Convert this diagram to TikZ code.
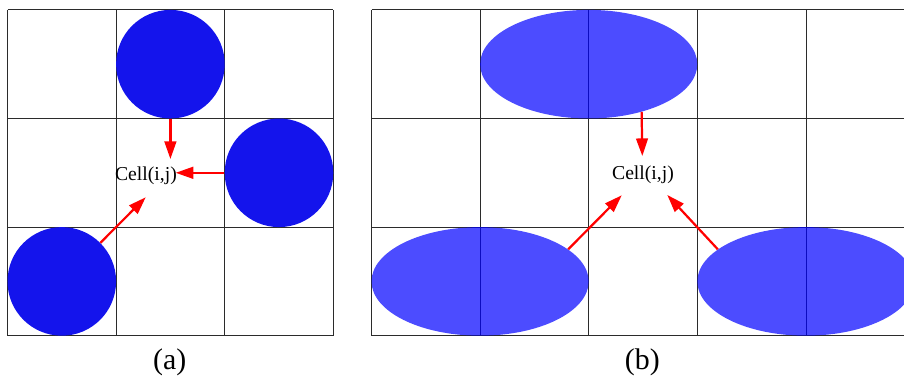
\documentclass[tikz,border=0pt]{standalone}
\usepackage{fontspec}
\setmainfont{Liberation Serif}
\usepackage{tikz}
\usetikzlibrary{arrows.meta,shapes.geometric}
\definecolor{disc}{HTML}{1414EC}
\definecolor{cellline}{HTML}{2B2B2B}
\definecolor{flow}{HTML}{FF0000}

\begin{document}
\begin{tikzpicture}[x=0.3mm,y=0.3mm,
  cellgrid/.style={draw=cellline,line width=0.7pt},
  disk/.style={circle,fill=disc,inner sep=0pt,minimum size=32.58mm},
  oval/.style={ellipse,fill=blue,fill opacity=0.7,inner sep=0pt,minimum width=65.16mm,minimum height=32.58mm},
  push/.style={-{Triangle[length=15pt,width=10pt]},draw=flow,line width=1.9pt},
  celltext/.style={font=\fontsize{16.8}{20}\selectfont,inner sep=0pt},
  caption/.style={font=\fontsize{25.5}{30}\selectfont,anchor=base,inner sep=0pt}]
\useasboundingbox (0,0) rectangle (904,378);
\clip (0,0) rectangle (904,378);
\fill[white] (0,0) rectangle (904,378);

\begin{scope}[shift={(7.5,42.3)}]
\draw[cellgrid,step=108.6] (0,0) grid (325.9,325.9);
\node[disk] (up) at (162.9,271.5) {};
\node[disk] (side) at (271.5,162.9) {};
\node[disk] (low) at (54.3,54.3) {};
\node[celltext] (cella) at (138.5,160) {Cell(i,j)};
\coordinate (tipa) at (162.9,176.7);
\coordinate (tipb) at (168.2,162.9);
\coordinate (tipc) at (138.2,138.4);
\draw[push] (up.south) -- (tipa);
\draw[push] (side.west) -- (tipb);
\draw[push] (low.45) -- (tipc);
\end{scope}

\begin{scope}[shift={(371.5,42.3)}]
\draw[cellgrid,step=108.6] (0,0) grid (543.1,325.9);
\node[oval] (top) at (217.2,271.5) {};
\node[oval] (left) at (108.6,54.3) {};
\node[oval] (right) at (434.4,54.3) {};
\node[celltext] (cellb) at (271.5,161) {Cell(i,j)};
\coordinate (tipd) at (270.8,179.7);
\coordinate (tipe) at (250.2,140.4);
\coordinate (tipf) at (295.8,140.7);
\draw[push] (top.318.6) -- (tipd);
\draw[push] (left.20) -- (tipe);
\draw[push] (right.160) -- (tipf);
\end{scope}

\node[caption] (capa) at (169.7,9) {(a)};
\node[caption] (capb) at (642.3,9) {(b)};
\end{tikzpicture}
\end{document}
